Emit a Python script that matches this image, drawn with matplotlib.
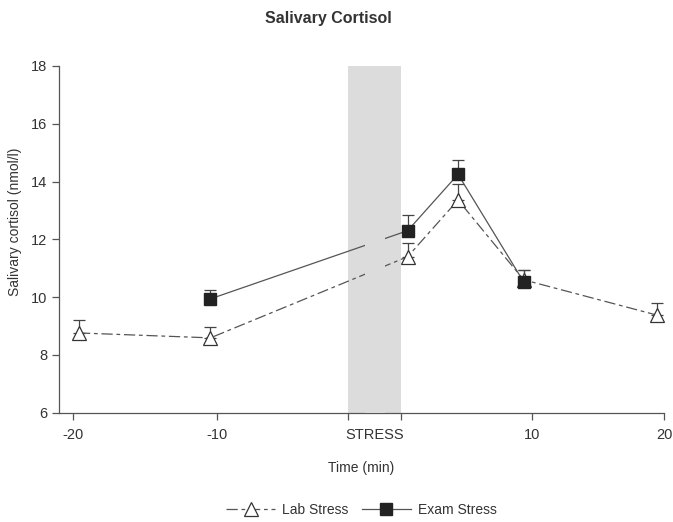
import matplotlib.pyplot as plt
import numpy as np

plt.rcParams['font.family'] = ['Liberation Sans', 'DejaVu Sans']

# time positions (min) as drawn on the original axis
lab_time = [-19.6, -10.7, 2.65, 6.06, 10.5, 19.5]
lab_cortisol = [8.76, 8.59, 11.40, 13.36, 10.60, 9.38]
lab_err = [0.45, 0.39, 0.46, 0.54, 0.35, 0.41]

exam_time = [-10.7, 2.65, 6.06, 10.5]
exam_cortisol = [9.94, 12.30, 14.25, 10.53]
exam_err = [0.32, 0.55, 0.50, 0.40]

tick_pos = [-20, -10.27, 0.4, 11.07, 20]
tick_labels = ['-20', '-10', 'STRESS', '10', '20']
stress_start, stress_end = -1.37, 2.18

txt = '#333333'
fig = plt.figure(figsize=(6.73, 5.22), dpi=100)
ax = fig.add_axes([0.0877, 0.2094, 0.8989, 0.6642])

ax.axvspan(stress_start, stress_end, color='#dcdcdc', zorder=0, lw=0)
# the connecting lines break in the middle of the stress band
ax.axvspan(-0.25, 1.1, color='#dcdcdc', zorder=4, lw=0)

ax.errorbar(lab_time, lab_cortisol, yerr=[np.zeros(len(lab_err)), lab_err],
            fmt='none', ecolor='#444444', elinewidth=0.9, capsize=4, capthick=0.9, zorder=2)
ax.errorbar(exam_time, exam_cortisol, yerr=[np.zeros(len(exam_err)), exam_err],
            fmt='none', ecolor='#444444', elinewidth=0.9, capsize=4, capthick=0.9, zorder=2)

# connecting lines (below the band gap)
ax.plot(lab_time, lab_cortisol, color='#555555', lw=0.9, dashes=(9, 3, 3, 3), zorder=3)
ax.plot(exam_time, exam_cortisol, color='#555555', lw=0.9, linestyle='-', zorder=3)

# markers on top
ax.plot(lab_time, lab_cortisol, linestyle='none', marker='^', ms=10, mfc='white',
        mec='#333333', mew=0.9, zorder=5)
ax.plot(exam_time, exam_cortisol, linestyle='none', marker='s', ms=8,
        mfc='#222222', mec='#222222', zorder=6)

# legend proxies
ax.plot([], [], color='#555555', lw=0.9, dashes=(9, 3, 3, 3), marker='^', ms=10,
        mfc='white', mec='#333333', mew=0.9, label='Lab Stress')
ax.plot([], [], color='#555555', lw=0.9, linestyle='-', marker='s', ms=8,
        mfc='#222222', mec='#222222', label='Exam Stress')

ax.set_xlim(-20.95, 20)
ax.set_ylim(6, 18)
ax.set_yticks(np.arange(6, 19, 2))
ax.set_xticks(tick_pos)
ax.set_xticklabels(tick_labels)
ax.set_xticks([stress_start, stress_end], minor=True)
ax.xaxis.get_major_ticks()[2].tick1line.set_visible(False)

for s in ['top', 'right']:
    ax.spines[s].set_visible(False)
for s in ['left', 'bottom']:
    ax.spines[s].set_color('#555555')
    ax.spines[s].set_linewidth(0.9)
ax.tick_params(axis='both', which='both', direction='out', length=5, width=0.9,
               color='#555555', labelcolor=txt, labelsize=10.5)
ax.tick_params(axis='x', pad=6)

ax.set_xlabel('Time (min)', fontsize=10, color=txt, labelpad=14)
ax.set_ylabel('Salivary cortisol (nmol/l)', fontsize=10, color=txt)
ax.yaxis.set_label_coords(-0.062, 0.55)

fig.text(0.488, 0.965, 'Salivary Cortisol', ha='center', va='center',
         fontsize=11.5, fontweight='bold', color=txt)

fig.legend(loc='center', bbox_to_anchor=(0.537, 0.023), ncol=2, frameon=False,
           fontsize=10, handlelength=3.5, columnspacing=1.0, handletextpad=0.5,
           labelcolor=txt)

fig.savefig('out.png', dpi=100)
